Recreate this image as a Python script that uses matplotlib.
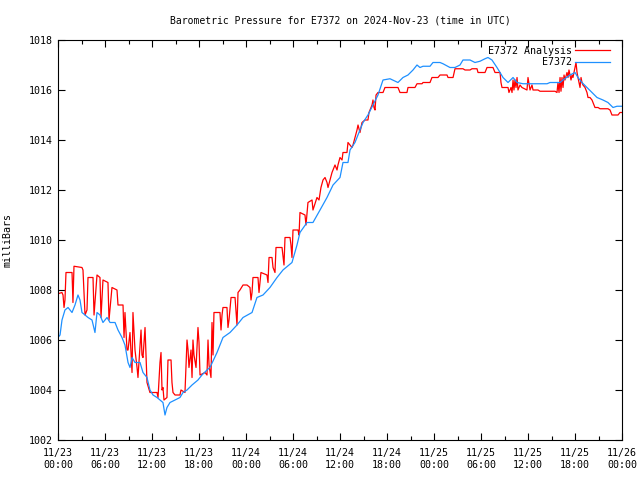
import numpy as np
import pandas as pd
import matplotlib
matplotlib.use("Agg")
import matplotlib.pyplot as plt
import matplotlib.dates as mdates

# hours since 2024-11-23 00:00 UTC, pressure in mb
obs_hours = [0.0, 0.26, 0.51, 0.89, 1.28, 1.79, 2.17, 2.55, 2.81, 3.06, 3.45, 3.83,
             4.34, 4.72, 4.98, 5.36, 5.74, 6.26, 6.64, 7.28, 7.66, 8.17, 8.55, 8.94,
             9.19, 9.45, 9.83, 10.47, 10.85, 11.36, 11.74, 12.13, 12.64, 13.02, 13.40,
             13.66, 13.91, 14.30, 14.94, 15.57, 15.96, 16.47, 17.11, 17.49, 17.87,
             18.38, 19.02, 19.40, 20.30, 21.06, 21.96, 22.85, 23.62, 24.77, 25.40,
             26.17, 27.06, 27.96, 28.72, 29.87, 30.51, 30.89, 31.79, 32.55, 33.45,
             34.34, 35.11, 36.00, 36.38, 37.02, 37.28, 37.91, 38.55, 38.94, 39.57,
             40.21, 40.85, 41.49, 42.38, 43.40, 44.04, 44.68, 45.32, 45.83, 46.21,
             46.60, 47.49, 47.87, 48.77, 49.15, 50.04, 50.68, 51.32, 51.70, 52.60,
             53.23, 53.87, 54.51, 54.89, 55.40, 56.04, 56.43, 56.81, 57.45, 58.09,
             58.60, 59.36, 62.43, 62.81, 64.09, 64.47, 65.36, 66.00, 66.38, 66.89,
             67.53, 68.17, 68.81, 69.57, 70.21, 70.85, 71.36, 72.0]
obs_mb = [1006.1, 1006.2, 1006.8, 1007.2, 1007.3, 1007.1, 1007.4, 1007.8, 1007.6, 1007.1,
          1007.0, 1006.9, 1006.8, 1006.3, 1007.1, 1007.0, 1006.7, 1006.9, 1006.7, 1006.7,
          1006.4, 1006.1, 1005.8, 1005.1, 1004.9, 1005.3, 1005.1, 1005.1, 1004.7, 1004.5,
          1004.0, 1003.8, 1003.7, 1003.6, 1003.5, 1003.0, 1003.3, 1003.5, 1003.6, 1003.7,
          1003.9, 1004.0, 1004.2, 1004.3, 1004.4, 1004.6, 1004.8, 1004.9, 1005.5, 1006.1,
          1006.3, 1006.6, 1006.9, 1007.1, 1007.7, 1007.8, 1008.1, 1008.5, 1008.8, 1009.1,
          1009.8, 1010.3, 1010.7, 1010.7, 1011.2, 1011.7, 1012.2, 1012.5, 1013.1, 1013.1,
          1013.6, 1013.9, 1014.4, 1014.7, 1015.0, 1015.4, 1015.8, 1016.4, 1016.45, 1016.3,
          1016.5, 1016.6, 1016.8, 1017.0, 1016.9, 1016.95, 1016.95, 1017.1, 1017.1, 1017.05,
          1016.9, 1016.9, 1017.0, 1017.2, 1017.2, 1017.1, 1017.15, 1017.25, 1017.3, 1017.2,
          1016.9, 1016.7, 1016.5, 1016.3, 1016.5, 1016.3, 1016.25, 1016.25, 1016.3, 1016.3,
          1016.4, 1016.6, 1016.7, 1016.5, 1016.3, 1016.1, 1015.9, 1015.7, 1015.6, 1015.5,
          1015.3, 1015.35, 1015.35]

ana_hours = [0.0, 0.5, 0.64, 0.77, 0.89, 1.02, 1.79, 1.91, 2.04, 3.06, 3.19, 3.45, 3.70,
             3.83, 4.47, 4.60, 4.98, 5.36, 5.49, 5.74, 6.38, 6.51, 6.89, 7.53, 7.66, 8.30,
             8.43, 8.55, 8.81, 8.94, 9.19, 9.45, 9.57, 9.83, 10.09, 10.21, 10.60, 10.72,
             10.85, 11.11, 11.36, 11.74, 12.64, 12.77, 13.02, 13.15, 13.28, 13.40, 13.53,
             13.91, 14.04, 14.43, 14.55, 14.68, 14.94, 15.57, 15.70, 16.21, 16.47, 16.60,
             16.72, 16.98, 17.11, 17.23, 17.36, 17.62, 17.87, 18.00, 18.13, 18.77, 19.02,
             19.15, 19.28, 19.53, 19.66, 19.79, 19.91, 20.68, 20.81, 20.94, 21.06, 21.57,
             21.70, 21.83, 22.09, 22.60, 22.85, 22.98, 23.23, 23.62, 24.13, 24.51, 24.64,
             24.77, 24.89, 25.53, 25.66, 25.79, 25.91, 26.68, 26.81, 26.94, 27.32, 27.45,
             27.70, 27.83, 28.60, 28.85, 28.98, 29.62, 29.74, 29.87, 30.00, 30.64, 30.77,
             30.89, 31.53, 31.66, 31.91, 32.43, 32.55, 33.06, 33.32, 33.57, 33.83, 34.09,
             34.34, 34.47, 34.98, 35.36, 35.62, 35.74, 36.00, 36.26, 36.38, 36.89, 37.02,
             37.28, 37.53, 37.66, 37.91, 38.17, 38.30, 38.55, 38.81, 39.19, 39.57, 39.70,
             40.09, 40.21, 40.34, 40.47, 40.60, 40.85, 41.49, 41.74, 43.40, 43.66, 44.55,
             44.68, 45.57, 45.83, 46.47, 46.60, 47.49, 47.74, 48.51, 48.77, 49.66, 49.79,
             50.43, 50.68, 51.70, 51.96, 52.60, 52.85, 53.49, 53.62, 54.51, 54.77, 55.53,
             55.79, 56.43, 56.55, 56.68, 57.45, 57.57, 57.83, 57.96, 58.09, 58.21, 58.34,
             58.47, 58.60, 58.72, 58.98, 59.23, 59.87, 60.00, 60.26, 60.51, 60.64, 61.28,
             61.53, 63.45, 63.70, 63.83, 63.96, 64.09, 64.21, 64.34, 64.47, 64.60, 64.72,
             64.98, 65.11, 65.23, 65.49, 65.62, 65.74, 66.00, 66.13, 66.26, 66.38, 66.64,
             66.77, 66.89, 67.02, 67.28, 67.53, 67.66, 67.91, 68.17, 68.55, 68.94, 69.19,
             70.21, 70.47, 70.72, 71.49, 71.74, 72.0]
ana_mb = [1007.85, 1007.9, 1007.8, 1007.3, 1007.6, 1008.7, 1008.7, 1007.5, 1008.95, 1008.9,
          1008.8, 1007.0, 1007.2, 1008.5, 1008.5, 1007.0, 1008.6, 1008.5, 1006.9, 1008.4,
          1008.3, 1006.8, 1008.1, 1008.0, 1007.4, 1007.4, 1006.1, 1007.1, 1005.6, 1005.6,
          1006.3, 1004.7, 1007.1, 1005.6, 1004.9, 1004.5, 1006.4, 1005.4, 1005.3, 1006.5,
          1004.3, 1003.9, 1003.9, 1003.7, 1005.1, 1005.5, 1004.0, 1004.1, 1003.6, 1003.7,
          1005.2, 1005.2, 1004.3, 1003.9, 1003.8, 1003.8, 1004.0, 1003.9, 1006.0, 1005.6,
          1004.9, 1005.6, 1004.5, 1006.0, 1005.4, 1004.9, 1006.5, 1005.9, 1004.6, 1004.7,
          1004.6, 1006.0, 1005.0, 1004.5, 1006.7, 1005.4, 1007.1, 1007.1, 1006.4, 1007.0,
          1007.3, 1007.3, 1006.5, 1006.8, 1007.7, 1007.7, 1006.6, 1007.9, 1008.0, 1008.2,
          1008.2, 1008.1, 1007.6, 1007.9, 1008.5, 1008.5, 1007.9, 1008.3, 1008.7, 1008.6,
          1008.3, 1009.3, 1009.3, 1008.9, 1008.7, 1009.7, 1009.7, 1009.0, 1010.1, 1010.1,
          1009.8, 1009.3, 1010.4, 1010.4, 1010.2, 1011.1, 1011.0, 1010.6, 1011.5, 1011.6,
          1011.2, 1011.7, 1011.6, 1012.1, 1012.4, 1012.5, 1012.3, 1012.1, 1012.7, 1013.0,
          1012.8, 1013.0, 1013.3, 1013.2, 1013.5, 1013.5, 1013.9, 1013.8, 1013.7, 1013.8,
          1014.1, 1014.4, 1014.6, 1014.3, 1014.7, 1014.8, 1014.8, 1015.1, 1015.4, 1015.6,
          1015.3, 1015.2, 1015.8, 1015.9, 1015.9, 1016.1, 1016.1, 1015.9, 1015.9, 1016.1,
          1016.1, 1016.25, 1016.25, 1016.3, 1016.3, 1016.5, 1016.5, 1016.6, 1016.6, 1016.5,
          1016.5, 1016.85, 1016.85, 1016.8, 1016.8, 1016.85, 1016.85, 1016.7, 1016.7, 1016.9,
          1016.9, 1016.7, 1016.7, 1016.3, 1016.1, 1016.1, 1015.9, 1016.1, 1015.9, 1016.4,
          1016.0, 1016.4, 1016.1, 1016.5, 1016.0, 1016.2, 1016.1, 1016.0, 1016.5, 1016.0,
          1016.2, 1016.0, 1016.0, 1015.95, 1015.95, 1015.9, 1016.3, 1015.9, 1016.5, 1015.95,
          1016.5, 1016.1, 1016.6, 1016.4, 1016.7, 1016.5, 1016.8, 1016.4, 1016.6, 1016.5,
          1016.9, 1017.1, 1016.7, 1016.5, 1016.1, 1016.5, 1016.3, 1016.2, 1016.1, 1015.9,
          1015.7, 1015.7, 1015.6, 1015.3, 1015.3, 1015.25, 1015.25, 1015.2, 1015.0, 1015.0,
          1015.1, 1015.1]

start = pd.Timestamp("2024-11-23 00:00")
obs_t = start + pd.to_timedelta(obs_hours, unit="h")
ana_t = start + pd.to_timedelta(ana_hours, unit="h")

plt.rcParams['font.family'] = 'DejaVu Sans Mono'
plt.rcParams['font.size'] = 7.2

fig = plt.figure(figsize=(6.4, 4.8), dpi=100)
ax = fig.add_axes([58 / 640, 40 / 480, 564 / 640, 400 / 480])

ax.plot(ana_t, ana_mb, color='#ff0000', lw=0.9, label='E7372 Analysis')
ax.plot(obs_t, obs_mb, color='#1e90ff', lw=0.9, label='E7372')

ax.set_xlim(start, start + pd.Timedelta(hours=72))
ax.set_ylim(1002, 1018)
ax.set_yticks(np.arange(1002, 1019, 2))
ax.xaxis.set_major_locator(mdates.HourLocator(byhour=[0, 6, 12, 18]))
ax.xaxis.set_minor_locator(mdates.HourLocator(byhour=[3, 9, 15, 21]))
ax.xaxis.set_major_formatter(mdates.DateFormatter('%m/%d\n%H:%M'))

ax.tick_params(which='both', direction='in', top=True, right=True, width=0.8)
ax.tick_params(which='major', length=5)
ax.tick_params(axis='x', which='major', pad=6)
ax.tick_params(which='minor', length=3)
for s in ax.spines.values():
    s.set_linewidth(0.8)

ax.set_title('Barometric Pressure for E7372 on 2024-Nov-23 (time in UTC)',
             fontsize=7.0, pad=12)
ax.set_ylabel('milliBars', labelpad=12)

ax.legend(loc='upper right', bbox_to_anchor=(1 - 12 / 564, 1 - 6 / 400),
          frameon=False, markerfirst=False, handlelength=3.5,
          handletextpad=0.3, labelspacing=0.15, borderaxespad=0.0,
          borderpad=0.0)

fig.savefig('out.png', dpi=100)
